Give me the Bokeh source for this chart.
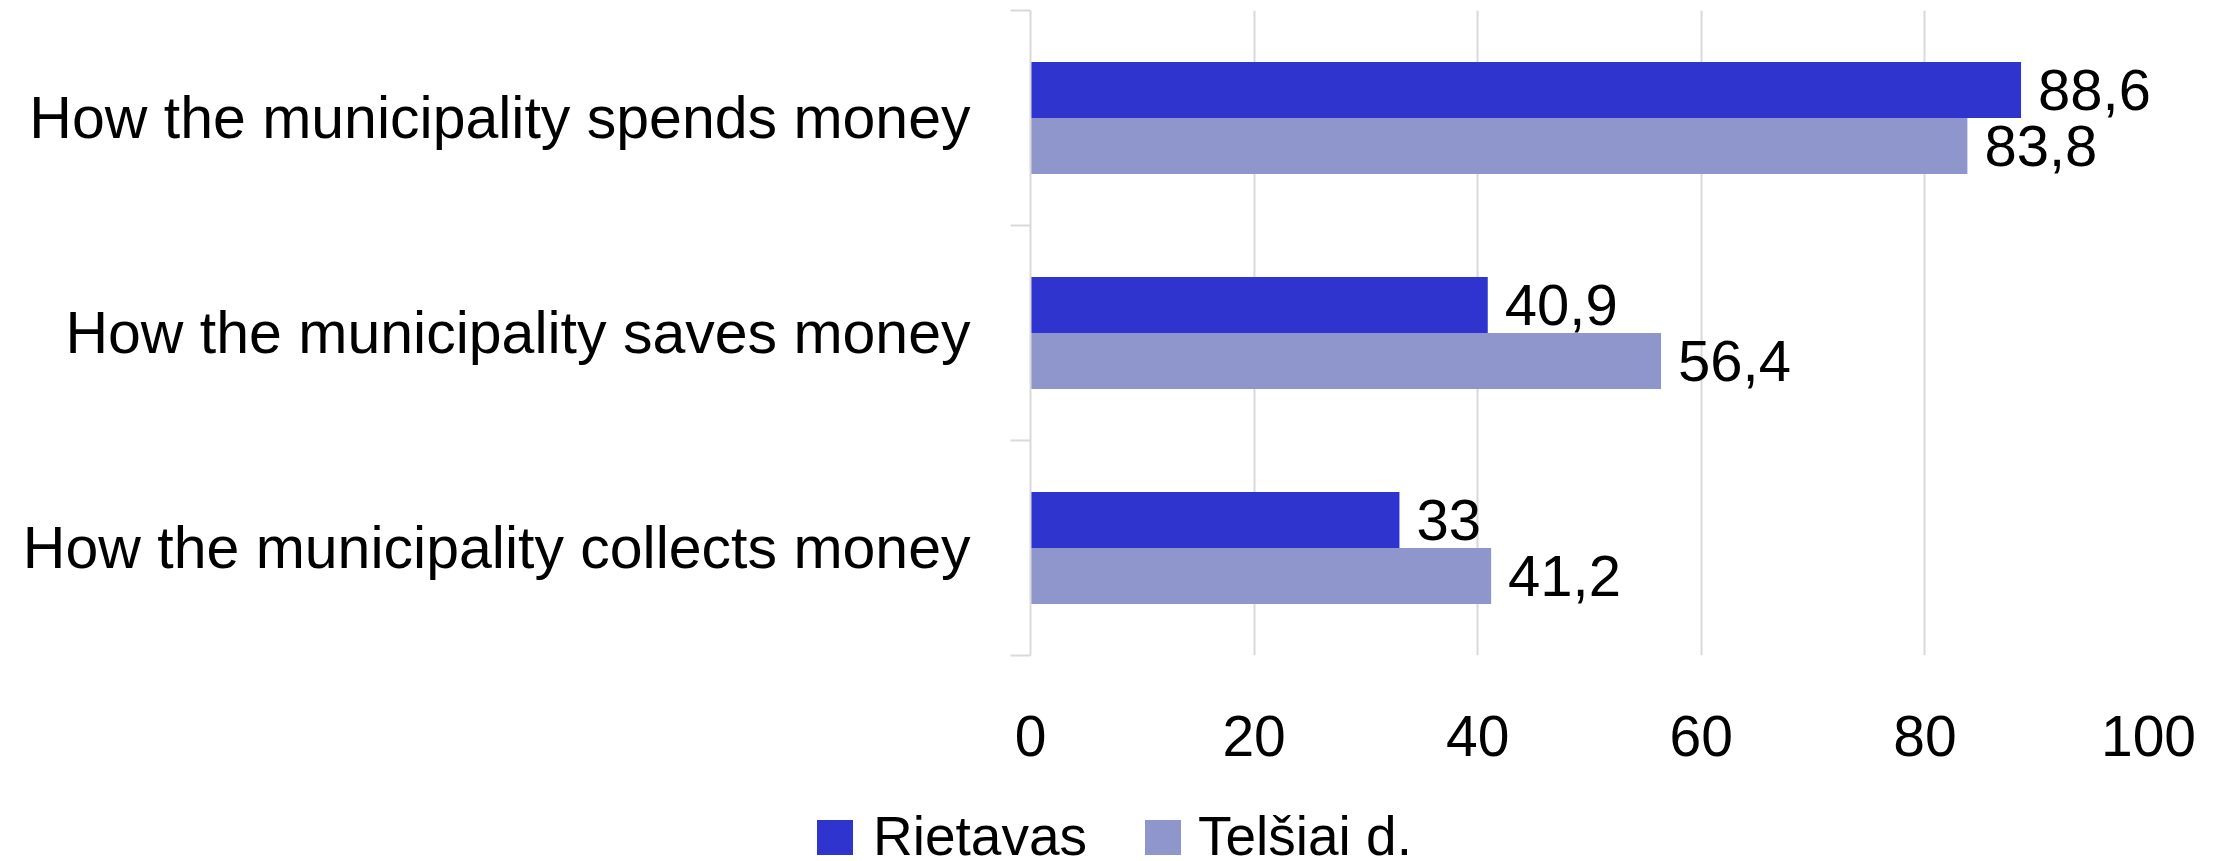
from bokeh.plotting import figure
from bokeh.layouts import column
from bokeh.models import ColumnDataSource, Range1d, FixedTicker, LabelSet, Div
from bokeh.core.properties import value
from bokeh.embed import file_html
from bokeh.resources import INLINE

# ---- data ----
categories = ["How the municipality spends money",
              "How the municipality saves money",
              "How the municipality collects money"]
rietavas = [88.6, 40.9, 33.0]
telsiai = [83.8, 56.4, 41.2]
series_names = ["Rietavas", "Telšiai d."]
x_ticks = [0, 20, 40, 60, 80, 100]

col_r = "#3034CF"
col_t = "#8F96CB"
series_colors = [col_r, col_t]
FONT = "Liberation Sans"

n = len(categories)
centers = [n - i - 0.5 for i in range(n)]
off = 0.13
bar_h = 0.26

def fmt(v):
    return ("%g" % v).replace(".", ",")

src_r = ColumnDataSource(dict(y=[c + off for c in centers], v=rietavas,
                              lab=[fmt(v) for v in rietavas]))
src_t = ColumnDataSource(dict(y=[c - off for c in centers], v=telsiai,
                              lab=[fmt(v) for v in telsiai]))

W = 2221
H_MAIN, H_LEG = 774, 87
p = figure(width=W, height=H_MAIN, output_backend="svg", toolbar_location=None,
           x_range=Range1d(0, 100), y_range=Range1d(0, n))
p.min_border_left = 1030
p.min_border_right = 73
p.min_border_top = 10
p.min_border_bottom = 119
p.outline_line_color = None
p.background_fill_color = "white"
p.border_fill_color = "white"

p.hbar(y="y", right="v", left=0, height=bar_h, source=src_r,
       fill_color=col_r, line_color=None)
p.hbar(y="y", right="v", left=0, height=bar_h, source=src_t,
       fill_color=col_t, line_color=None)

for s in (src_r, src_t):
    p.add_layout(LabelSet(x="v", y="y", text="lab", source=s, x_offset=17,
                          text_baseline="middle", text_align="left",
                          text_font=value(FONT), text_font_size="58px",
                          text_color="black"))

p.xaxis.ticker = FixedTicker(ticks=x_ticks)
p.xaxis.axis_line_color = None
p.xaxis.major_tick_line_color = None
p.xaxis.minor_tick_line_color = None
p.xaxis.major_label_text_font = FONT
p.xaxis.major_label_text_font_size = "57px"
p.xaxis.major_label_text_color = "black"
p.xaxis.major_label_standoff = 54

p.xgrid.grid_line_color = "#d9d9d9"
p.xgrid.grid_line_width = 2
p.ygrid.grid_line_color = None

p.yaxis.ticker = FixedTicker(ticks=centers, minor_ticks=list(range(n + 1)))
p.yaxis.major_label_overrides = {c: categories[i] for i, c in enumerate(centers)}
p.yaxis.axis_line_color = "#d9d9d9"
p.yaxis.axis_line_width = 2
p.yaxis.major_tick_line_color = None
p.yaxis.major_tick_out = 0
p.yaxis.major_tick_in = 0
p.yaxis.minor_tick_line_color = "#d9d9d9"
p.yaxis.minor_tick_line_width = 2
p.yaxis.minor_tick_out = 20
p.yaxis.minor_tick_in = 0
p.yaxis.major_label_text_font = FONT
p.yaxis.major_label_text_font_size = "59px"
p.yaxis.major_label_text_color = "black"
p.yaxis.major_label_standoff = 40

# ---- legend (HTML strip below the plot) ----
sq_left = [817, 1145]
txt_left = [873, 1198]
parts = []
for name, c, sl, tl in zip(series_names, series_colors, sq_left, txt_left):
    parts.append(
        f'<div style="position:absolute;left:{sl}px;top:46px;width:36px;height:35px;'
        f'background:{c};"></div>'
        f'<span style="position:absolute;left:{tl}px;top:42px;line-height:40px;'
        f'white-space:nowrap;">{name}</span>')
legend_html = (f'<div style="position:relative;width:{W}px;height:{H_LEG}px;'
               f'font-family:\'{FONT}\';font-size:55px;color:black;">'
               + "".join(parts) + '</div>')
leg = Div(text=legend_html, width=W, height=H_LEG, margin=0)

layout = column(p, leg, spacing=0)
open("out.html", "w").write(file_html(layout, INLINE))
